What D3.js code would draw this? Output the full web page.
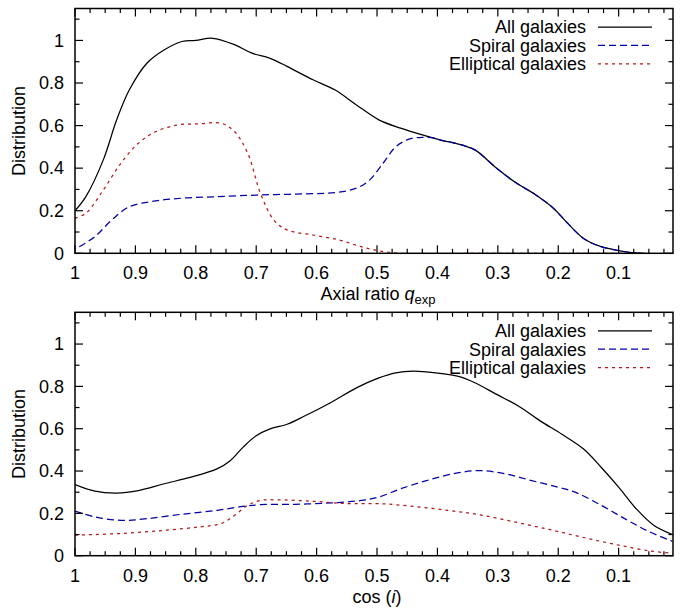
<!DOCTYPE html>
<html><head><meta charset="utf-8">
<script src="https://cdn.jsdelivr.net/npm/d3@7"></script>
<style>body{margin:0;background:#fff}svg{display:block}text{font-family:"Liberation Sans",Arial,sans-serif}</style>
</head><body><svg id="c" width="686" height="608"></svg>
<script>
// ---- data ----
const topAllQ = [1.0,0.982,0.953,0.931,0.91,0.881,0.852,0.823,0.80,0.772,0.736,0.707,0.678,0.649,0.606,0.570,0.534,0.497,0.461,0.425,0.396,0.36,0.338,0.302,0.273,0.237,0.208,0.187,0.158,0.129,0.10,0.078,0.056];
const topAllY = [0.20,0.266,0.44,0.627,0.768,0.893,0.956,0.995,1.0,1.01,0.98,0.94,0.917,0.878,0.815,0.768,0.697,0.627,0.588,0.556,0.533,0.509,0.486,0.40,0.337,0.274,0.212,0.149,0.07,0.031,0.013,0.003,0.0];
const topSpQ = [0.993,0.967,0.939,0.91,0.873,0.823,0.765,0.693,0.62,0.57,0.534,0.512,0.49,0.469,0.447,0.425,0.403,0.396,0.36,0.338,0.302,0.273,0.237,0.208,0.187,0.158,0.129,0.10,0.078,0.056];
const topSpY = [0.031,0.078,0.157,0.219,0.243,0.259,0.266,0.274,0.279,0.285,0.306,0.345,0.423,0.50,0.536,0.545,0.54,0.533,0.509,0.486,0.40,0.337,0.274,0.212,0.149,0.07,0.031,0.013,0.003,0.0];
const topElQ = [1.0,0.982,0.953,0.924,0.895,0.866,0.83,0.794,0.758,0.736,0.714,0.693,0.671,0.649,0.606,0.563,0.526,0.49,0.46,0.3,0.15,0.056];
const topElY = [0.165,0.188,0.298,0.423,0.517,0.572,0.603,0.608,0.611,0.572,0.47,0.282,0.157,0.11,0.086,0.063,0.031,0.008,0.0,0.0,0.0,0.0];

const botAllQ = [1.0,0.967,0.931,0.895,0.852,0.808,0.765,0.743,0.722,0.70,0.678,0.649,0.62,0.577,0.534,0.497,0.469,0.44,0.403,0.367,0.338,0.302,0.266,0.23,0.194,0.158,0.129,0.10,0.071,0.042,0.011];
const botAllY = [0.336,0.305,0.296,0.308,0.34,0.371,0.41,0.449,0.512,0.567,0.598,0.621,0.66,0.723,0.793,0.84,0.864,0.872,0.864,0.848,0.817,0.762,0.707,0.637,0.574,0.504,0.418,0.324,0.222,0.144,0.10];
const botSpQ = [1.0,0.967,0.924,0.881,0.823,0.765,0.722,0.693,0.635,0.577,0.526,0.497,0.461,0.418,0.374,0.331,0.288,0.244,0.201,0.172,0.129,0.085,0.049,0.011];
const botSpY = [0.211,0.183,0.167,0.175,0.196,0.214,0.233,0.241,0.243,0.249,0.261,0.277,0.316,0.355,0.387,0.402,0.387,0.355,0.324,0.30,0.238,0.167,0.113,0.068];
const botElQ = [1.0,0.924,0.852,0.794,0.758,0.736,0.714,0.693,0.664,0.606,0.548,0.497,0.44,0.382,0.331,0.273,0.215,0.158,0.10,0.049,0.011];
const botElY = [0.097,0.105,0.12,0.136,0.152,0.191,0.238,0.261,0.264,0.257,0.246,0.246,0.233,0.214,0.194,0.16,0.124,0.086,0.05,0.023,0.011];

const xTicks = [1,0.9,0.8,0.7,0.6,0.5,0.4,0.3,0.2,0.1];
const yTicks = [0,0.2,0.4,0.6,0.8,1];
const legendLabels = ["All galaxies","Spiral galaxies","Elliptical galaxies"];

// ---- drawing ----
const svg = d3.select("#c");
const L = 75, R = 673;
const styles = [
  {color:"#000000", dash:null},
  {color:"#0000a8", dash:"7,4"},
  {color:"#b01818", dash:"3,4"}
];

function panel(top, bottom, series, xlabelFn, tickBase, labelBase) {
  const x = d3.scaleLinear().domain([1, 0.01]).range([L, R]);
  const y = d3.scaleLinear().domain([0, 1.15]).range([bottom, top]);
  const g = svg.append("g");
  // curves
  const line = d3.line().x(d => x(d[0])).y(d => y(d[1])).curve(d3.curveCatmullRom.alpha(0.5));
  g.append("clipPath").attr("id","cp"+top).append("rect").attr("x",L).attr("y",top).attr("width",R-L).attr("height",bottom-top);
  series.forEach((s, i) => {
    const pts = s[0].map((q, k) => [q, s[1][k]]);
    g.append("path").datum(pts).attr("d", line).attr("fill","none")
      .attr("stroke", styles[i].color).attr("stroke-width",1.25)
      .attr("stroke-dasharray", styles[i].dash).attr("clip-path","url(#cp"+top+")");
  });
  // frame
  g.append("rect").attr("x",L).attr("y",top).attr("width",R-L).attr("height",bottom-top)
    .attr("fill","none").attr("stroke","#000").attr("stroke-width",1.5);
  // x ticks
  const xMinor = d3.range(0, 40).map(k => 1 - k*0.025).filter(v => v > 0.01);
  xMinor.forEach(v => {
    const major = Math.abs(Math.round(v*10) - v*10) < 1e-6;
    const len = major ? 8 : 4.5;
    g.append("line").attr("x1",x(v)).attr("x2",x(v)).attr("y1",bottom).attr("y2",bottom-len).attr("stroke","#000").attr("stroke-width",1.2);
    g.append("line").attr("x1",x(v)).attr("x2",x(v)).attr("y1",top).attr("y2",top+len).attr("stroke","#000").attr("stroke-width",1.2);
  });
  // y ticks
  d3.range(0, 12).map(k => k*0.1).forEach((v, k) => {
    const len = (k % 2 === 0) ? 8 : 4.5;
    g.append("line").attr("x1",L).attr("x2",L+len).attr("y1",y(v)).attr("y2",y(v)).attr("stroke","#000").attr("stroke-width",1.2);
    g.append("line").attr("x1",R).attr("x2",R-len).attr("y1",y(v)).attr("y2",y(v)).attr("stroke","#000").attr("stroke-width",1.2);
  });
  // labels
  xTicks.forEach(v => {
    g.append("text").attr("x", x(v)).attr("y", tickBase).attr("text-anchor","middle")
      .attr("font-size",18).text(d3.format("")(v));
  });
  yTicks.forEach(v => {
    g.append("text").attr("x", 64).attr("y", y(v)).attr("dy","0.35em").attr("text-anchor","end")
      .attr("font-size",18).text(d3.format("")(v));
  });
  g.append("text").attr("transform",`translate(25,${(top+bottom)/2}) rotate(-90)`)
    .attr("text-anchor","middle").attr("font-size",18).text("Distribution");
  xlabelFn(g, labelBase);
  // legend
  legendLabels.forEach((t, i) => {
    const yy = top + 18.5 + i*18.4;
    g.append("text").attr("x",586).attr("y",yy).attr("dy","0.35em").attr("text-anchor","end").attr("font-size",18).text(t);
    g.append("line").attr("x1",598).attr("x2",652).attr("y1",yy).attr("y2",yy)
      .attr("stroke",styles[i].color).attr("stroke-width",1.25).attr("stroke-dasharray",styles[i].dash);
  });
}

panel(8.5, 253.3, [[topAllQ,topAllY],[topSpQ,topSpY],[topElQ,topElY]], (g, b) => {
  const t = g.append("text").attr("x",378).attr("y",b).attr("text-anchor","middle").attr("font-size",18);
  t.append("tspan").text("Axial ratio ");
  t.append("tspan").attr("font-style","italic").text("q");
  t.append("tspan").attr("font-size",13).attr("dy",4).text("exp");
}, 279, 300);

panel(312.3, 555.7, [[botAllQ,botAllY],[botSpQ,botSpY],[botElQ,botElY]], (g, b) => {
  const t = g.append("text").attr("x",377).attr("y",b).attr("text-anchor","middle").attr("font-size",18);
  t.append("tspan").text("cos (");
  t.append("tspan").attr("font-style","italic").text("i");
  t.append("tspan").text(")");
}, 582, 603);
</script></body></html>
